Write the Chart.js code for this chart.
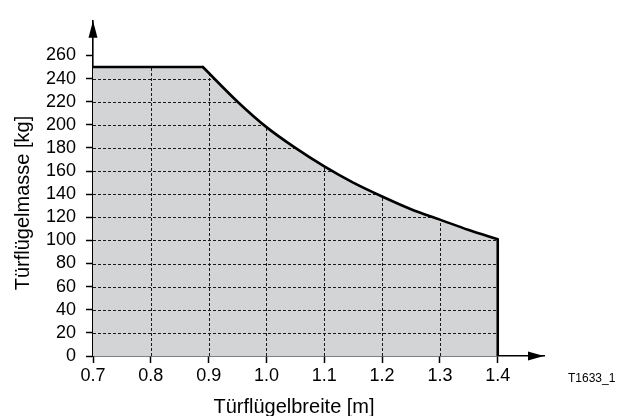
<!DOCTYPE html>
<html lang="de">
<head>
<meta charset="utf-8"/>
<title>Türflügelmasse</title>
<script src="https://cdn.jsdelivr.net/npm/chart.js@4.4.0/dist/chart.umd.min.js"></script>
<style>
    body { margin: 0; background: #fff; }
    #wrap { width: 620px; height: 416px; }
</style>
</head>
<body>
<div id="wrap">
    <canvas id="chart1" width="620" height="416"></canvas>
</div>
<script>
    // values
    var flatX = [0.7, 0.89];
    var flatY = [250, 250];
    var curveX = [0.89, 0.95, 1.0, 1.05, 1.1, 1.15, 1.2, 1.25, 1.3, 1.35, 1.4];
    var curveY = [250, 220, 198, 180, 164, 150, 138, 127, 118, 109, 101];
    var dropX = [1.4, 1.4];
    var dropY = [101, 0];
    var yMaxTick = 260;
    var xTitle = 'Türflügelbreite [m]';
    var yTitle = 'Türflügelmasse [kg]';
    var figCode = 'T1633_1';

    var FONT = "'Liberation Sans', Arial, sans-serif";

    function pts(xs, ys) {
        return xs.map(function (v, i) { return {x: v, y: ys[i]}; });
    }

    var shade = {
        id: 'shade',
        beforeDatasetsDraw: function (chart) {
            var ctx = chart.ctx, x = chart.scales.x, y = chart.scales.y, area = chart.chartArea;
            var line = chart.getDatasetMeta(1).dataset;
            line.updateControlPoints(area, 'x');
            ctx.save();
            ctx.beginPath();
            line.path(ctx);
            ctx.lineTo(x.getPixelForValue(dropX[1]), y.getPixelForValue(dropY[1]));
            ctx.lineTo(x.getPixelForValue(flatX[0]), y.getPixelForValue(0));
            ctx.lineTo(x.getPixelForValue(flatX[0]), y.getPixelForValue(flatY[0]));
            ctx.closePath();
            ctx.fillStyle = '#d3d4d6';
            ctx.fill();
            ctx.clip();
            ctx.setLineDash([3, 2]);
            ctx.lineWidth = 1;
            ctx.strokeStyle = '#1a1a1a';
            x.ticks.forEach(function (t, i) {
                if (i === 0) return;
                var px = Math.round(x.getPixelForValue(t.value)) + 0.5;
                ctx.beginPath(); ctx.moveTo(px, area.bottom); ctx.lineTo(px, area.top); ctx.stroke();
            });
            y.ticks.forEach(function (t, i) {
                if (i === 0) return;
                var py = Math.round(y.getPixelForValue(t.value)) + 0.5;
                ctx.beginPath(); ctx.moveTo(area.left, py); ctx.lineTo(area.right, py); ctx.stroke();
            });
            ctx.restore();
        },
        afterDraw: function (chart) {
            var ctx = chart.ctx, area = chart.chartArea;
            ctx.save();
            ctx.fillStyle = '#000';
            // arrow heads
            ctx.beginPath();
            ctx.moveTo(area.right, area.bottom);
            ctx.lineTo(area.right - 16, area.bottom - 4.5);
            ctx.lineTo(area.right - 16, area.bottom + 4.5);
            ctx.closePath();
            ctx.fill();
            ctx.beginPath();
            ctx.moveTo(area.left, area.top);
            ctx.lineTo(area.left - 4.5, area.top + 17);
            ctx.lineTo(area.left + 4.5, area.top + 17);
            ctx.closePath();
            ctx.fill();
            // titles
            ctx.font = '20px ' + FONT;
            ctx.textAlign = 'center';
            ctx.textBaseline = 'alphabetic';
            ctx.fillText(xTitle, 294, 413);
            ctx.save();
            ctx.translate(29, 203);
            ctx.rotate(-Math.PI / 2);
            ctx.fillText(yTitle, 0, 0);
            ctx.restore();
            ctx.font = '12px ' + FONT;
            ctx.textAlign = 'left';
            ctx.textBaseline = 'middle';
            ctx.fillText(figCode, 568, 379);
            ctx.restore();
        }
    };

    var ch1 = document.getElementById('chart1').getContext('2d');
    var chart1 = new Chart(ch1, {
        type: 'line',
        data: {
            datasets: [
                {
                    label: 'flat',
                    data: pts(flatX, flatY),
                    borderColor: '#000',
                    borderWidth: 2.6,
                    borderCapStyle: 'round',
                    pointRadius: 0,
                    fill: false
                },
                {
                    label: 'curve',
                    data: pts(curveX, curveY),
                    borderColor: '#000',
                    borderWidth: 2.6,
                    borderCapStyle: 'round',
                    cubicInterpolationMode: 'monotone',
                    pointRadius: 0,
                    fill: false
                },
                {
                    label: 'drop',
                    data: pts(dropX, dropY),
                    borderColor: '#000',
                    borderWidth: 2.6,
                    pointRadius: 0,
                    fill: false
                }
            ]
        },
        options: {
            responsive: false,
            animation: false,
            devicePixelRatio: 1,
            layout: { padding: { top: 12, right: 76, left: 0, bottom: 0 } },
            plugins: {
                legend: { display: false },
                tooltip: { enabled: false }
            },
            scales: {
                x: {
                    type: 'linear',
                    min: 0.7,
                    max: 1.48,
                    z: 1,
                    afterFit: function (s) { s.height = 60; },
                    ticks: {
                        stepSize: 0.1,
                        includeBounds: false,
                        color: '#000',
                        padding: 2,
                        maxRotation: 0,
                        font: { family: FONT, size: 18 },
                        callback: function (v) { return v.toFixed(1); }
                    },
                    grid: {
                        drawOnChartArea: false,
                        drawTicks: true,
                        tickLength: 7,
                        tickWidth: 1.5,
                        tickColor: '#000'
                    },
                    border: { color: '#000', width: 1.6 }
                },
                y: {
                    min: 0,
                    max: 290,
                    z: 1,
                    afterFit: function (s) { s.width = 93; },
                    afterBuildTicks: function (s) {
                        s.ticks = s.ticks.filter(function (t) { return t.value <= yMaxTick; });
                    },
                    ticks: {
                        stepSize: 20,
                        includeBounds: false,
                        color: '#000',
                        padding: 10,
                        font: { family: FONT, size: 18 }
                    },
                    grid: {
                        drawOnChartArea: false,
                        drawTicks: true,
                        tickLength: 7,
                        tickWidth: 1.5,
                        tickColor: '#000'
                    },
                    border: { color: '#000', width: 1.6 }
                }
            }
        },
        plugins: [shade]
    });
</script>
</body>
</html>
